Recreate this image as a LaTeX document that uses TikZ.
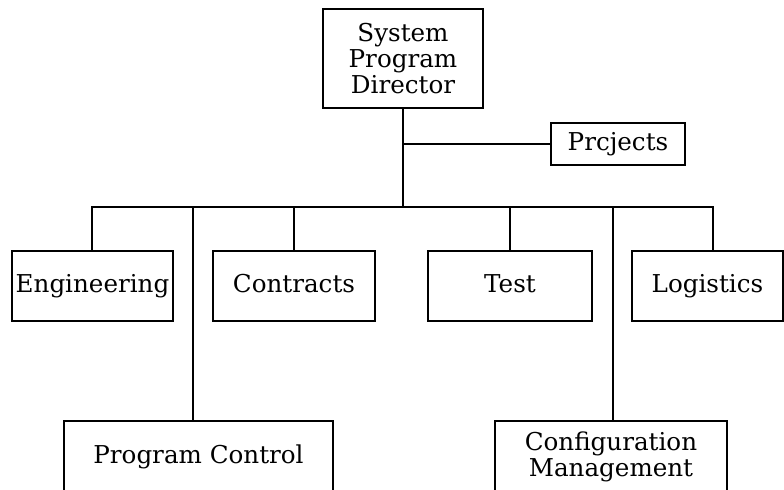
\documentclass[tikz,border=0pt]{standalone}
\usepackage{fontspec}
\setmainfont{DejaVu Serif}
\begin{document}
\begin{tikzpicture}[x=0.5pt,y=-0.5pt,
  box/.style={draw, line width=1pt, inner sep=0pt, align=center,
    font=\fontsize{12.3}{13.2}\selectfont},
  onebox/.style={box, text height=8.6pt, text depth=2.4pt},
  link/.style={line width=1pt}]
\useasboundingbox (0,0) rectangle (784,490);
\clip (0,0) rectangle (784,490);

% director and staff office
\node[box, minimum width=80pt, minimum height=49.5pt] (spd) at (403,58.5) {System\\Program\\Director};
\node[onebox, minimum width=67pt, minimum height=21pt] (proj) at (618,144) {Prcjects};

% first-tier departments
\node[onebox, minimum width=80.5pt, minimum height=35pt] (eng) at (92.5,286) {Engineering};
\node[onebox, minimum width=81pt, minimum height=35pt] (con) at (294,286) {Contracts};
\node[onebox, minimum width=82pt, minimum height=35pt] (test) at (510,286) {Test};
\node[onebox, minimum width=75.5pt, minimum height=35pt] (log) at (707.5,286) {Logistics};

% lower-tier departments (run past the bottom edge)
\node[onebox, minimum width=134.5pt, minimum height=36pt] (pc) at (198.5,457) {Program Control};
\node[box, minimum width=116pt, minimum height=36pt] (cm) at (611,457) {Configuration\\Management};

% bus and taps
\coordinate (bus) at (403,207);
\coordinate (engtap) at (92,207);
\coordinate (pctap) at (193,207);
\coordinate (cmtap) at (613,207);
\coordinate (logtap) at (713,207);

\draw[link] (spd.south) -- (bus);
\draw[link] (bus |- proj.west) -- (proj.west);
\draw[link] (engtap |- eng.north) -- (engtap) -- (logtap) -- (logtap |- log.north);
\draw[link] (con.north) -- (con.north |- bus);
\draw[link] (test.north) -- (test.north |- bus);
\draw[link] (pctap) -- (pctap |- pc.north);
\draw[link] (cmtap) -- (cmtap |- cm.north);
\end{tikzpicture}
\end{document}
